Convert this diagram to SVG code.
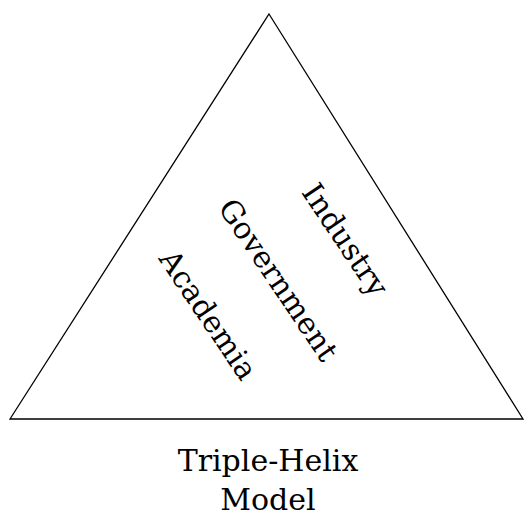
<svg xmlns="http://www.w3.org/2000/svg" width="525" height="516" viewBox="0 0 525 516">
<style>
text{font-family:"DejaVu Serif","Liberation Serif",serif;font-size:30px;fill:#000;text-anchor:middle}
.edge{fill:none;stroke:#000;stroke-width:1.3}
</style>
<rect width="525" height="516" fill="#fff"/>
<g id="connectors">
<polygon class="edge" points="269,14 523,419 10,419"/>
</g>
<g id="industry"><text transform="translate(345,240) rotate(56)" dy="10">Industry</text></g>
<g id="government"><text transform="translate(278,280) rotate(56)" dy="10">Government</text></g>
<g id="academia"><text transform="translate(208,315) rotate(56)" dy="10">Academia</text></g>
<g id="caption"><text x="268" y="471">Triple-Helix</text><text x="268" y="510">Model</text></g>
</svg>
